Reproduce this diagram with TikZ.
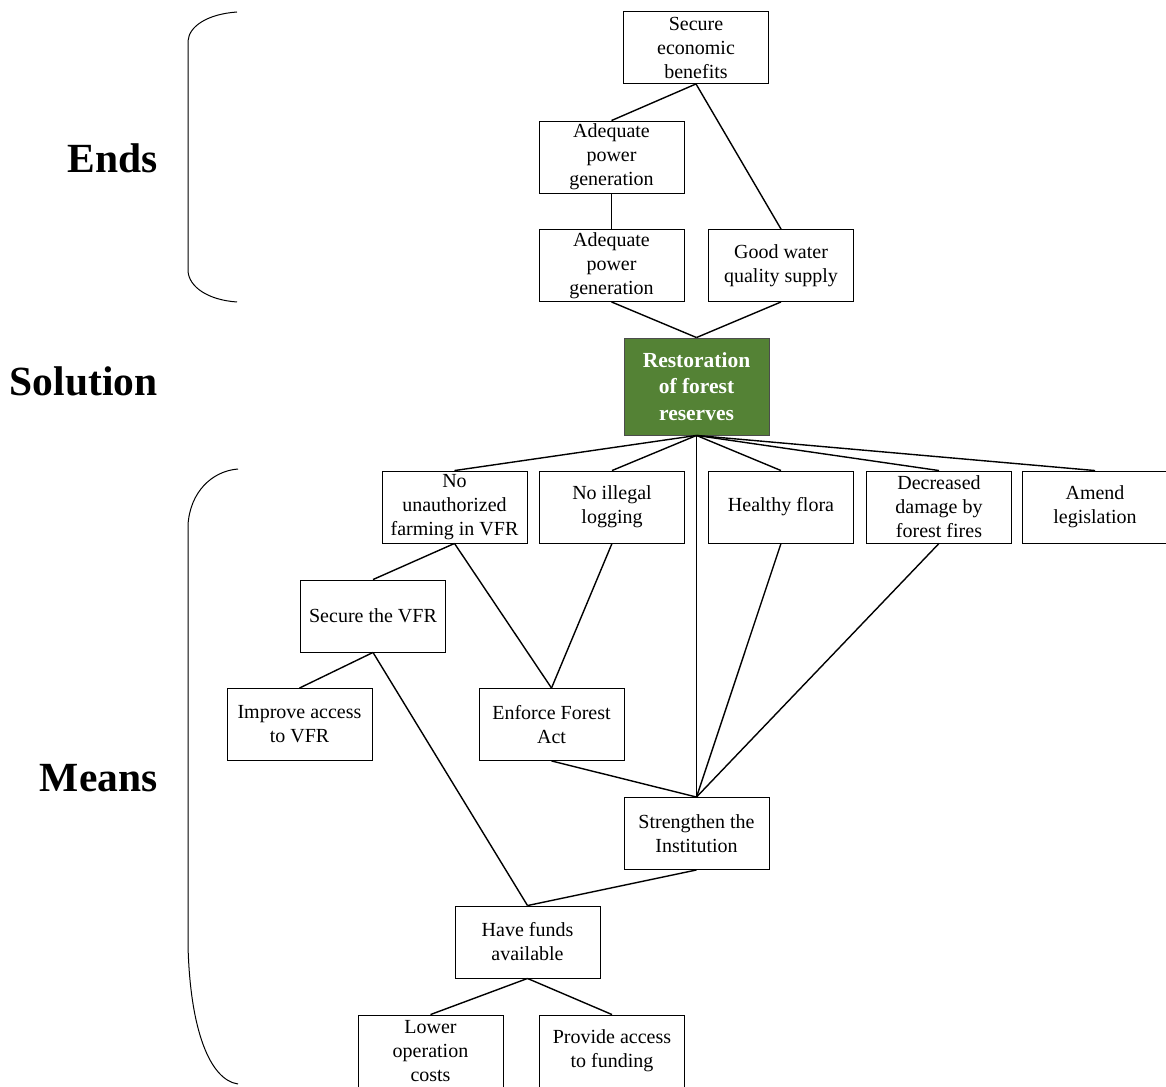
\documentclass[tikz,border=0pt]{standalone}
\usepackage{fontspec}
\setmainfont{Liberation Serif}
\definecolor{forestgreen}{RGB}{84,130,53}
\begin{document}
\begin{tikzpicture}[x=1pt,y=-1pt,
  box/.style={draw=black,line width=0.9pt,minimum width=145pt,minimum height=72pt,
    inner sep=1pt,align=center,font=\fontsize{20}{24}\selectfont},
  keybox/.style={box,fill=forestgreen,draw=black!70,minimum height=97pt,text=white,
    font=\fontsize{21.5}{26.5}\selectfont\bfseries},
  tag/.style={anchor=east,font=\fontsize{41.5}{48}\selectfont\bfseries},
  link/.style={line width=1.4pt},
  brace/.style={line width=1pt}]
\useasboundingbox (0,0) rectangle (1166,1086);
\clip (0,0) rectangle (1166,1086);

% side labels
\node[tag] (ends) at (161,158) {Ends};
\node[tag] (sol) at (161,381) {Solution};
\node[tag] (means) at (161,778) {Means};

% brackets
\draw[brace] (237,12) .. controls (208,14) and (189,26) .. (188,41) -- (188,271)
  .. controls (189,287) and (208,300) .. (237,302);
\draw[brace] (238,469) .. controls (212,471) and (190,492) .. (188,525) -- (188,945)
  .. controls (190,1030) and (210,1080) .. (238,1084);

% ends
\node[box] (econ) at (696,47.5) {Secure\\economic\\benefits};
\node[box] (power1) at (611.5,157) {Adequate\\power\\generation};
\node[box] (power2) at (611.5,265.5) {Adequate\\power\\generation};
\node[box] (water) at (781,265.5) {Good water\\quality supply};

% solution
\node[keybox] (restore) at (696.5,386.5) {Restoration\\of forest\\reserves};

% means, first row
\node[box] (farming) at (454.5,507) {No\\unauthorized\\farming in VFR};
\node[box] (logging) at (612,507) {No illegal\\logging};
\node[box] (flora) at (781,507) {Healthy flora};
\node[box] (fires) at (939,507) {Decreased\\damage by\\forest fires};
\node[box] (amend) at (1095,507) {Amend\\legislation};

% means, lower rows
\node[box] (securevfr) at (373,616) {Secure the VFR};
\node[box] (access) at (299.5,724.5) {Improve access\\to VFR};
\node[box] (enforce) at (551.5,724.5) {Enforce Forest\\Act};
\node[box] (strengthen) at (696.5,833.5) {Strengthen the\\Institution};
\node[box] (funds) at (527.5,942) {Have funds\\available};
\node[box] (lower) at (430.5,1051) {Lower\\operation\\costs};
\node[box] (provide) at (612,1051) {Provide access\\to funding};

% connectors
\draw[link] (econ.south) -- (power1.north);
\draw[link] (econ.south) -- (water.north);
\draw[link] (power1.south) -- (power2.north);
\draw[link] (power2.south) -- (restore.north);
\draw[link] (water.south) -- (restore.north);
\foreach \t in {farming,logging,flora,fires,amend}
  \draw[link] (restore.south) -- (\t.north);
\draw[link] (restore.south) -- (strengthen.north);
\draw[link] (farming.south) -- (securevfr.north);
\draw[link] (farming.south) -- (enforce.north);
\draw[link] (logging.south) -- (enforce.north);
\draw[link] (flora.south) -- (strengthen.north);
\draw[link] (fires.south) -- (strengthen.north);
\draw[link] (securevfr.south) -- (access.north);
\draw[link] (securevfr.south) -- (funds.north);
\draw[link] (enforce.south) -- (strengthen.north);
\draw[link] (strengthen.south) -- (funds.north);
\draw[link] (funds.south) -- (lower.north);
\draw[link] (funds.south) -- (provide.north);
\end{tikzpicture}
\end{document}
